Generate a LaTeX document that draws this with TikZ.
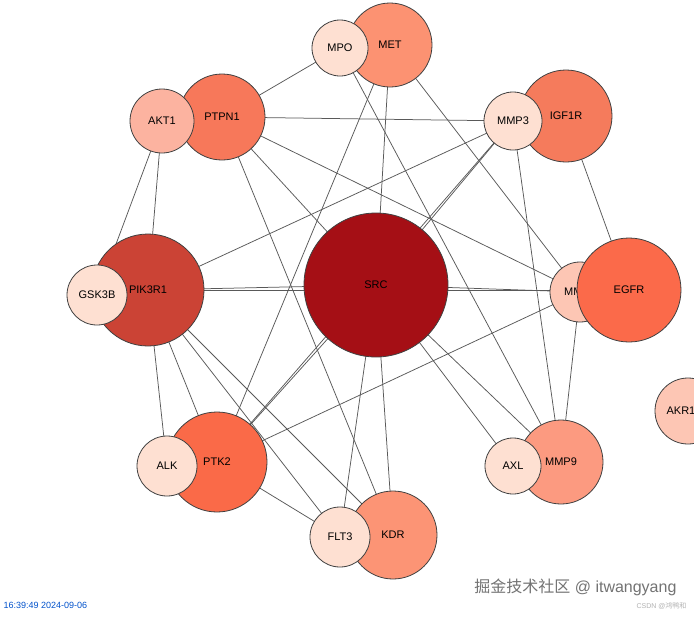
\documentclass[tikz,border=0pt]{standalone}
\usepackage{fontspec}
\setmainfont{Liberation Sans}
\newfontfamily\cjk{Noto Sans CJK SC}
\begin{document}
\begin{tikzpicture}[x=1pt,y=-1pt,
  gn/.style={circle,draw=black!75,line width=0.8pt,inner sep=0pt,font=\fontsize{11}{13}\selectfont},
  ed/.style={draw=black!65,line width=0.75pt}]
\clip (0,0) rectangle (694,619);
\fill[white] (0,0) rectangle (694,619);
\definecolor{cL}{HTML}{FEE0D2}
\definecolor{cAKT}{HTML}{FCB3A0}
\definecolor{cMMP2}{HTML}{FDC6B4}
\definecolor{cMET}{HTML}{FC9272}
\definecolor{cMMP9}{HTML}{FC9A80}
\definecolor{cKDR}{HTML}{FC9475}
\definecolor{cPTPN}{HTML}{F7785A}
\definecolor{cIGF}{HTML}{F57B5C}
\definecolor{cEGFR}{HTML}{FB6A4A}
\definecolor{cPTK}{HTML}{FA6A48}
\definecolor{cPIK}{HTML}{CB4335}
\definecolor{cSRC}{HTML}{A50F15}
% coordinates
\coordinate (pSRC) at (376,285);
\coordinate (pMET) at (390,45);
\coordinate (pMPO) at (340,48);
\coordinate (pPTPN1) at (222,117);
\coordinate (pAKT1) at (162,121);
\coordinate (pIGF1R) at (566,116);
\coordinate (pMMP3) at (513,121);
\coordinate (pPIK3R1) at (148,290);
\coordinate (pGSK3B) at (97,295);
\coordinate (pEGFR) at (629,290);
\coordinate (pMMP2) at (580,292);
\coordinate (pPTK2) at (217,462);
\coordinate (pALK) at (167,466);
\coordinate (pMMP9) at (561,462);
\coordinate (pAXL) at (513,466);
\coordinate (pKDR) at (393,535);
\coordinate (pFLT3) at (340,537);
\coordinate (pAKR) at (688,411);
% edges
\foreach \a/\b in {MPO/PTPN1,PTPN1/MMP3,MET/PTK2,MPO/MMP9,MET/SRC,MET/MMP2,MMP3/PIK3R1,MMP3/PTK2,MMP3/SRC,MMP3/MMP9,IGF1R/EGFR,PTPN1/MMP2,PTPN1/SRC,PTPN1/KDR,AKT1/GSK3B,AKT1/PIK3R1,PIK3R1/SRC,PIK3R1/EGFR,SRC/MMP2,PIK3R1/ALK,PIK3R1/PTK2,PIK3R1/FLT3,PIK3R1/KDR,PTK2/FLT3,PTK2/MMP2,SRC/PTK2,SRC/KDR,SRC/AXL,SRC/MMP9,MMP2/MMP9,SRC/FLT3}
  \draw[ed] (p\a) -- (p\b);
% nodes (background ones first)
\node[gn,fill=cMET,minimum size=84pt] (MET) at (pMET) {MET};
\node[gn,fill=cL,minimum size=56pt] (MPO) at (pMPO) {MPO};
\node[gn,fill=cPTPN,minimum size=86pt] (PTPN1) at (pPTPN1) {PTPN1};
\node[gn,fill=cAKT,minimum size=64pt] (AKT1) at (pAKT1) {AKT1};
\node[gn,fill=cIGF,minimum size=92pt] (IGF1R) at (pIGF1R) {IGF1R};
\node[gn,fill=cL,minimum size=58pt] (MMP3) at (pMMP3) {MMP3};
\node[gn,fill=cPIK,minimum size=112pt] (PIK3R1) at (pPIK3R1) {PIK3R1};
\node[gn,fill=cL,minimum size=60pt] (GSK3B) at (pGSK3B) {GSK3B};
\node[gn,fill=cMMP2,minimum size=60pt] (MMP2) at (pMMP2) {MMP2};
\node[gn,fill=cEGFR,minimum size=104pt] (EGFR) at (pEGFR) {EGFR};
\node[gn,fill=cPTK,minimum size=100pt] (PTK2) at (pPTK2) {PTK2};
\node[gn,fill=cL,minimum size=60pt] (ALK) at (pALK) {ALK};
\node[gn,fill=cMMP9,minimum size=84pt] (MMP9) at (pMMP9) {MMP9};
\node[gn,fill=cL,minimum size=56pt] (AXL) at (pAXL) {AXL};
\node[gn,fill=cKDR,minimum size=88pt] (KDR) at (pKDR) {KDR};
\node[gn,fill=cL,minimum size=60pt] (FLT3) at (pFLT3) {FLT3};
\node[gn,fill=cSRC,minimum size=144pt] (SRC) at (pSRC) {SRC};
\node[gn,fill=cMMP2,minimum size=66pt] (AKR) at (pAKR) {AKR1C3};
% texts
\node[anchor=west,text=blue!60!cyan!80!black,font=\fontsize{9}{10}\selectfont] (ts) at (0,605) {16:39:49 2024-09-06};
\node[anchor=east,text=black!55,font=\fontsize{16}{18}\selectfont] (wm) at (680,587) {{\cjk 掘金技术社区} @ itwangyang};
\node[anchor=east,text=black!30,font=\fontsize{7}{8}\selectfont] (wm2) at (690,606) {CSDN @{\cjk 鸿鸭和}};
\end{tikzpicture}
\end{document}
